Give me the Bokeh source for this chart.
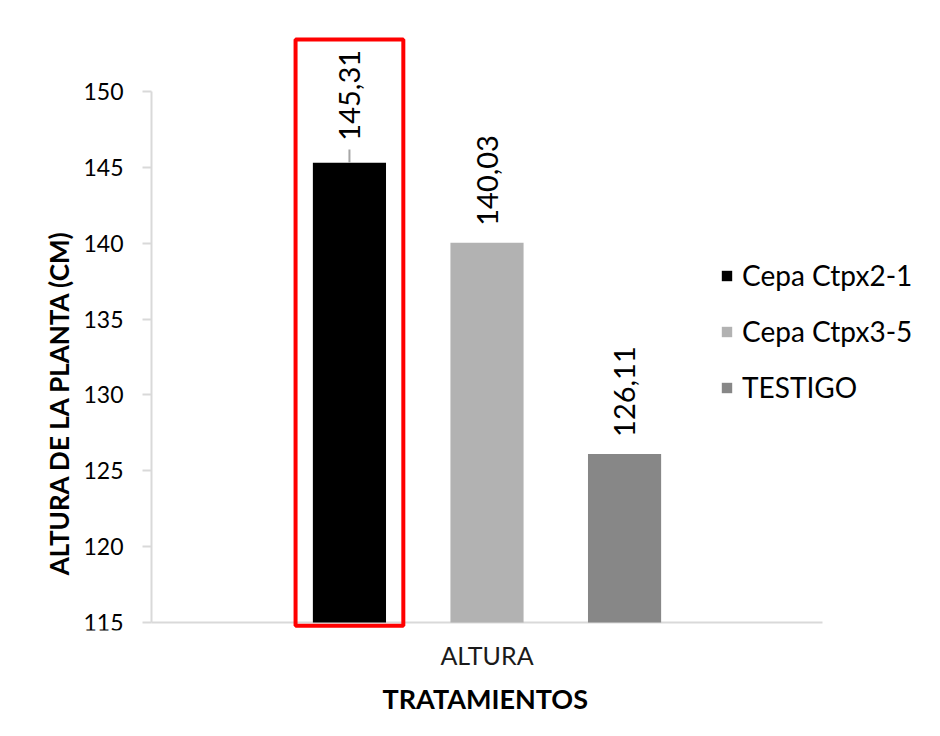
import math
from bokeh.plotting import figure
from bokeh.models import Range1d, ColumnDataSource, Legend, LegendItem, FixedTicker, Title, Label
from bokeh.core.properties import value
from bokeh.embed import file_html
from bokeh.resources import INLINE

# ---- data ----
category = "ALTURA"
treatments = ["Cepa Ctpx2-1", "Cepa Ctpx3-5", "TESTIGO"]
heights = [145.31, 140.03, 126.11]
labels = ["145,31", "140,03", "126,11"]
y_ticks = [115, 120, 125, 130, 135, 140, 145, 150]
highlighted = "Cepa Ctpx2-1"

# ---- style ----
colors = ["#000000", "#b2b2b2", "#878787"]
cat_pos = 1.0                  # position of the single category on the x scale
offsets = [-0.205, 0.0, 0.205]
bar_width = 0.109
label_offsets = [22, 17, 17]
FONT = "Lato"
y_min, y_max = y_ticks[0], y_ticks[-1]
axis_x = cat_pos - 0.5         # the value axis sits at the left edge of the category

p = figure(width=940, height=736,
           x_range=Range1d(axis_x - 0.16542, cat_pos + 0.6684),
           y_range=Range1d(114.473, 153.69),
           output_backend="svg", toolbar_location=None,
           min_border_left=40, min_border_right=5,
           min_border_top=35, min_border_bottom=106)
p.xgrid.visible = False
p.ygrid.visible = False
p.outline_line_color = None
p.background_fill_color = "white"
p.border_fill_color = "white"

# y axis (drawn at the category's left edge)
ya = p.yaxis[0]
ya.fixed_location = axis_x
ya.ticker = FixedTicker(ticks=y_ticks)
ya.bounds = (y_min, y_max)
ya.axis_line_color = "#d9d9d9"
ya.axis_line_width = 2
ya.major_tick_line_color = "#d9d9d9"
ya.major_tick_line_width = 2
ya.major_tick_out = 9
ya.major_tick_in = 0
ya.minor_tick_line_color = None
ya.major_label_text_font = FONT
ya.major_label_text_font_size = "23px"
ya.major_label_text_color = "#000000"
ya.major_label_standoff = 19

# y-axis title (screen units relative to the plot frame)
p.add_layout(Label(text="ALTURA DE LA PLANTA (CM)", x=18, y=228,
                   x_units="screen", y_units="screen", angle=math.pi / 2,
                   text_align="center", text_baseline="middle",
                   text_font=FONT, text_font_style="bold", text_font_size="26px",
                   text_color="#000000"))

# x axis
xa = p.xaxis[0]
xa.ticker = FixedTicker(ticks=[cat_pos])
xa.major_label_overrides = {cat_pos: category}
xa.axis_line_color = None
xa.major_tick_line_color = None
xa.minor_tick_line_color = None
xa.major_label_text_font = FONT
xa.major_label_text_font_size = "25px"
xa.major_label_text_color = "#1a1a1a"
xa.major_label_standoff = 3

p.add_layout(Title(text="TRATAMIENTOS", align="left", offset=342,
                   text_font=FONT, text_font_style="bold", text_font_size="27px",
                   text_color="#000000", standoff=14), "below")

# baseline of the category axis
base = ColumnDataSource(dict(x0=[cat_pos - 0.5], x1=[cat_pos + 0.5], y=[y_min]))
p.segment(x0="x0", x1="x1", y0="y", y1="y", source=base, line_color="#d9d9d9", line_width=2)

items = []
for t, h, lab, c, off, lo in zip(treatments, heights, labels, colors, offsets, label_offsets):
    xc = cat_pos + off
    src = ColumnDataSource(dict(x=[xc], top=[h], bottom=[y_min], lab=[lab]))
    r = p.vbar(x="x", top="top", bottom="bottom", width=bar_width, source=src,
               fill_color=c, line_color=None)
    items.append(LegendItem(label=t, renderers=[r]))
    p.text(x="x", y="top", text="lab", source=src,
           angle=math.pi / 2, text_align="left", text_baseline="middle",
           y_offset=-lo, text_font=value(FONT), text_font_size="29px", text_color="#000000")
    if t == highlighted:
        lsrc = ColumnDataSource(dict(x=[xc], y0=[h], y1=[h + 0.86]))
        p.segment(x0="x", y0="y0", x1="x", y1="y1", source=lsrc,
                  line_color="#a6a6a6", line_width=2)
        bsrc = ColumnDataSource(dict(l=[xc - 0.0803], r=[xc + 0.0803], t=[153.43], b=[114.78]))
        p.quad(left="l", right="r", top="t", bottom="b", source=bsrc,
               fill_color=None, line_color="#ff0000", line_width=4)

legend = Legend(items=items, location=(680, 226),
                glyph_width=13, glyph_height=13, label_standoff=9,
                label_text_font=FONT, label_text_font_size="28px", label_text_color="#000000",
                spacing=22, padding=0, margin=0,
                border_line_color=None, background_fill_alpha=0)
p.add_layout(legend)

open("out.html", "w").write(file_html(p, INLINE))
